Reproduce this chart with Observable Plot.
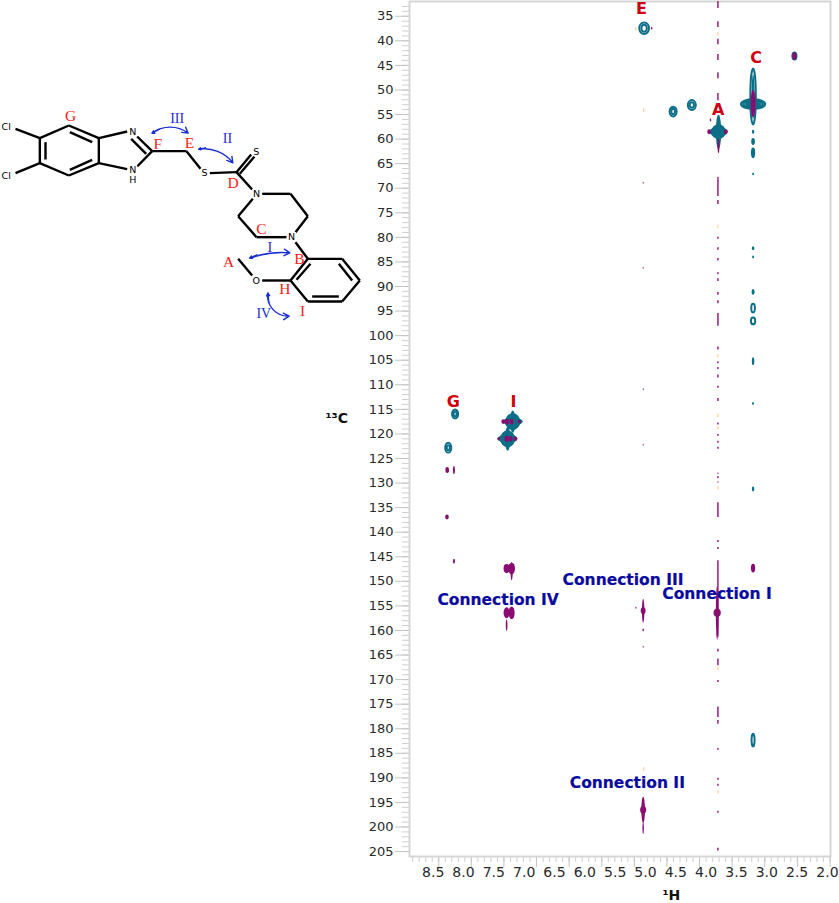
<!DOCTYPE html>
<html><head><meta charset="utf-8">
<script src="https://cdn.jsdelivr.net/npm/d3@7"></script>
<script src="https://cdn.jsdelivr.net/npm/@observablehq/plot@0.6"></script>
<style>
html,body{margin:0;padding:0;background:#fff}
#chart{position:relative;width:839px;height:903px;overflow:hidden}
#chart svg{position:absolute;left:0;top:0;overflow:visible;background:transparent}
</style></head><body><div id="chart"></div>
<script>
// ---- axes (ppm) ----
const xLabels=[8.5,8,7.5,7,6.5,6,5.5,5,4.5,4,3.5,3,2.5,2];
const xMajor=[8.408,7.871,7.333,6.796,6.258,5.721,5.184,4.646,4.109,3.572,3.034,2.497,1.955];
const xMinor=d3.range(8.838,1.95,-0.1075);
const yMajor=d3.range(35,206,5);
const yMinor=d3.range(33,206,1);
// ---- teal contour rings ----
const ringH=[5.014,5.014, 4.536,4.536, 4.228,4.228, 3.218,3.218,3.218,3.218, 8.13,8.13, 8.243,8.243, 3.218,3.218,3.218];
const ringC=[37.56,37.56, 54.5,54.5, 53.17,53.17, 52.97,52.97,52.97,51.44, 116.05,116.05, 122.9,122.9, 182.4,94.5,97.1];
const ringDH=[.08,.045, .058,.03, .066,.035, .2,.16,.115,.045, .05,.025, .05,.025, .025,.03,.035];
const ringDC=[1.18,.72, 1.0,.55, 1.0,.55, .98,.78,.62,5.7, .92,.5, 1.0,.5, 1.3,.9,.7];
// ---- pale interior of the wide peak C ----
const lobeH=[3.218];
const lobeC=[52.97];
const lobeDH=[.2];
const lobeDC=[.98];
// ---- filled teal peaks ----
const blobH=[3.788,3.788,3.788, 3.218,3.218, 2.536, 7.18,7.18,7.18, 7.264,7.264,7.264, 3.218,3.218,3.218,3.218,3.218,3.218,3.218,3.218,3.218,3.218];
const blobC=[58.6,58.6,58.6, 52.97,51.44, 43.2, 117.6,117.6,117.6, 121.1,121.1,121.1, 58.6,60.6,62.9,67.2,82.3,84.1,91.2,105.3,113.9,131.3];
const blobDH=[.155,.12,.045, .1,.025, .05, .165,.125,.045, .165,.125,.045, .02,.03,.035,.015,.02,.015,.025,.02,.015,.02];
const blobDC=[.95,1.5,3.46, 1.2,4.5, .92, .85,1.7,2.24, .85,1.7,2.44, .4,.7,1.1,.25,.4,.3,.6,.8,.3,.5];
// ---- magenta peaks ----
const magH=[3.218,3.943,3.67,3.788,3.92,4.89,2.536, 5.03,5.03,5.03,5.03,5.03, 5.03,5.03,5.03, 5.03,5.03,5.03,5.03,5.15, 3.81,3.81, 3.218, 7.337,7.271,7.198,7.073,7.413,7.281,7.215,7.139, 8.26,8.149,8.264,8.149, 7.281,7.198,7.198, 7.281,7.198,7.281];
const magC=[52.87,58.6,58.6,61.5,56.2,37.56,43.2, 156.1,156.1,160,163.4,150.8, 196.6,196.6,200.3, 69,86.3,111,122.3,155.5, 156.5,156.5, 147.4, 117.6,117.6,117.6,117.6,121.1,121.1,121.1,121.1, 127.45,127.45,137,146, 147.5,147.5,148, 156.5,156.5,159];
const magDH=[.04,.03,.03,.016,.012,.012,.033, .02,.04,.012,.008,.008, .03,.05,.012, .008,.008,.008,.008,.01, .022,.06, .035, .03,.035,.03,.03,.02,.035,.03,.03, .03,.016,.03,.016, .05,.055,.018, .05,.05,.014];
const magDC=[2.75,.5,.5,1.5,.3,.25,.8, 2.44,.7,.3,.2,.3, 2.65,.8,1.2, .2,.2,.2,.2,.2, 5.5,.8, .9, .5,.6,.6,.4,.35,.6,.6,.45, .6,.8,.5,.5, .9,1.2,1.9, 1.1,1.3,1.2];
// ---- the dashed streak at 3.8 ppm ----
const streakC1=[32,36.1,39.7,42.8,46.5,50.7,67.8,68.4,72.5,80,82.1,84.3,87.2,88.4,91.2,92.9,95.5,102.3,105.3,106.5,108,110.3,112.8,117.8,120.1,121.5,122.7,128,128.7,129.8,134,141.7,143.1,145.8,151.3,163.8,165.8,170.2,175.6,176.9,178.3,184,190.1,191.3,196.8,204.3];
const streakC2=[33.4,37.3,40.8,44,47.7,52.2,68.4,71.7,73.3,80.4,82.6,84.8,87.6,89,91.8,93.5,98.1,102.9,105.7,106.9,108.6,110.7,113.4,118.2,120.5,121.9,123.1,128.2,129.1,130,137,142.1,143.5,151.3,161.4,164.4,167.2,170.6,176.9,177.7,179.1,184.4,190.5,191.7,197.2,204.9];
const streakH=3.806;
const faintH=[3.806,3.806,3.806,3.806,3.806,3.806,3.806,3.806,5.03,5.16,5.03];
const faintC=[38.7,77.9,104.2,116.3,118.9,131.1,167.8,193,54.2,37.7,188.3];
// ---- peak and connection labels ----
const peakText=["E","C","A","G","I"];
const peakH=[5.068,3.174,3.8,8.166,7.177];
const peakC=[33.6,43.4,54,113.4,113.4];
const connText=["Connection IV","Connection III","Connection I","Connection II"];
const connH=[7.429,5.37,3.821,5.299];
const connC=[153.9,149.8,152.5,191.1];

const spots=(H,C,DH,DC)=>H.map((h,i)=>({x1:h-DH[i],x2:h+DH[i],y1:C[i]-DC[i],y2:C[i]+DC[i]}));
const teal="#0c6f87", magenta="#8a0c70";
const ell=(H,C,DH,DC,o)=>Plot.rect(spots(H,C,DH,DC),{x1:"x1",x2:"x2",y1:"y1",y2:"y2",rx:"50%",ry:"50%",...o});
const axisFont="DejaVu Sans, sans-serif";

const main=Plot.plot({
  width:839,height:903,marginLeft:409,marginRight:9,marginTop:1,marginBottom:47,
  style:{fontFamily:axisFont,background:"transparent"},
  x:{domain:[8.89,1.95],axis:null},
  y:{domain:[32,206],reverse:true,axis:null},
  marks:[
    Plot.axisX(xMinor,{anchor:"bottom",tickSize:6,stroke:"#cfcfcf",tickFormat:()=>"",label:null}),
    Plot.axisX(xMajor,{anchor:"bottom",tickSize:11,stroke:"#c4c4c4",tickFormat:()=>"",label:null}),
    Plot.axisX(xLabels,{anchor:"bottom",tickSize:0,tickPadding:11,fontSize:14,fill:"#2a2a2a",tickFormat:d=>d.toFixed(1),label:null}),
    Plot.axisY(yMinor,{anchor:"left",tickSize:7,stroke:"#cfcfcf",tickFormat:()=>"",label:null}),
    Plot.axisY(yMajor,{anchor:"left",tickSize:14,tickPadding:2,stroke:"#c4c4c4",fontSize:13,fill:"#2a2a2a",label:null}),
    Plot.frame({stroke:"#d6d6d6",strokeWidth:2}),
    Plot.ruleX(faintC,{x:(d,i)=>faintH[i],y1:d=>d-.35,y2:d=>d+.35,stroke:"#ffcf90",strokeWidth:1.2}),
    Plot.ruleX(streakC1,{x:()=>streakH,y1:d=>d,y2:(d,i)=>streakC2[i],stroke:"#a4288c",strokeWidth:1.6}),
    ell(lobeH,lobeC,lobeDH,lobeDC,{fill:"#6fb1c2"}),
    ell(blobH,blobC,blobDH,blobDC,{fill:teal}),
    ell(ringH,ringC,ringDH,ringDC,{fill:"none",stroke:teal,strokeWidth:2}),
    ell(magH,magC,magDH,magDC,{fill:magenta}),
    Plot.text(connText,{x:(d,i)=>connH[i],y:(d,i)=>connC[i],text:d=>d,fontSize:15.5,fontWeight:700,fill:"#0a0aa0",stroke:"#0a0aa0",strokeWidth:.2}),
    Plot.text(peakText,{x:(d,i)=>peakH[i],y:(d,i)=>peakC[i],text:d=>d,fontSize:16,fontWeight:700,fill:"#cc0010"}),
    Plot.text(["¹H"],{x:()=>4.574,y:()=>214,text:d=>d,fontSize:14,fontWeight:700,fill:"#111"}),
    Plot.text(["¹³C"],{x:()=>10.09,y:()=>116.8,text:d=>d,fontSize:14,fontWeight:700,fill:"#111"})
  ]
});

// ---- molecule: bond ends, labels and arrows on a drawing scale ----
const bondX1=[118,205,295,205,118,45,45, 135,208,208, 295,410,392,455,295, 455,558,628,708,718,708, 785,870,922,858,768,713, 885,922,1025,1078,1025,922,870, 1015,935,930, 870,755,295];
const bondY1=[143,105,218,255,218,115,248, 155,125,238, 143,138,145,182,218, 182,182,248,245,250,245, 310,310,377,440,440,377, 455,505,505,570,633,633,570, 520,618,520, 570,555,143];
const bondX2=[205,295,205,118,118,118,118, 135,275,275, 380,455,437,410,380, 558,600,708,752,762,755, 870,922,885,768,713,757, 922,1025,1078,1025,922,870,922, 1055,1015,888, 785,713,295];
const bondY2=[105,143,255,218,143,143,218, 207,155,208, 123,182,190,228,236, 182,235,245,192,198,297, 310,377,425,440,377,325, 505,505,570,633,633,570,505, 570,618,568, 570,505,218];
const atomText=["Cl","Cl","N","N","H","S","S","N","N","O"];
const atomX=[17,17,397,397,397,612,767,768,873,767];
const atomY=[108,257,123,238,268,248,183,310,440,570];
const redText=["G","F","E","D","C","B","A","H","I"];
const redX=[210,472,567,698,783,897,684,853,906];
const redY=[78,160,157,278,417,505,515,595,662];
const blueText=["III","II","I","IV"];
const blueX=[530,681,808,790];
const blueY=[83,145,470,670];
// main arcs run from the first point to the second; short arcs add the head at the first point
const arrowX1=[455,595,748,802];
const arrowY1=[128,176,503,608];
const arrowX2=[563,697,868,866];
const arrowY2=[128,217,487,677];
const arrowBend=[37,30,12,-50];
const backX=[476,615,770,805];
const backY=[116,172,493,636];
const at=a=>(d,i)=>a[i];
const molecule=Plot.plot({
  width:370,height:340,margin:0,
  style:{background:"transparent"},
  x:{domain:[0,1110],axis:null},
  y:{domain:[-270,750],axis:null,reverse:true},
  marks:[
    Plot.link(bondX1,{x1:d=>d,y1:(d,i)=>bondY1[i],x2:(d,i)=>bondX2[i],y2:(d,i)=>bondY2[i],stroke:"#000",strokeWidth:2.4}),
    ...arrowX1.map((a,i)=>Plot.arrow([i],{x1:()=>arrowX1[i],y1:()=>arrowY1[i],x2:()=>arrowX2[i],y2:()=>arrowY2[i],bend:arrowBend[i],stroke:"#1a2fd0",strokeWidth:1.4,headLength:7})),
    Plot.arrow(backX,{x1:d=>d,y1:(d,i)=>backY[i],x2:(d,i)=>arrowX1[i],y2:(d,i)=>arrowY1[i],stroke:"#1a2fd0",strokeWidth:1.4,headLength:7}),
    Plot.text(atomText,{x:at(atomX),y:at(atomY),text:d=>d,fontFamily:"DejaVu Sans",fontSize:9.5,fill:"#000",stroke:"#fff",strokeWidth:3,paintOrder:"stroke"}),
    Plot.text(redText,{x:at(redX),y:at(redY),text:d=>d,fontFamily:"Liberation Serif",fontSize:15.5,fill:"#ff1a1a"}),
    Plot.text(blueText,{x:at(blueX),y:at(blueY),text:d=>d,fontFamily:"Liberation Serif",fontSize:14,fill:"#1a2fd0"})
  ]
});
const chart=document.getElementById("chart");
chart.append(main,molecule);
</script></body></html>
